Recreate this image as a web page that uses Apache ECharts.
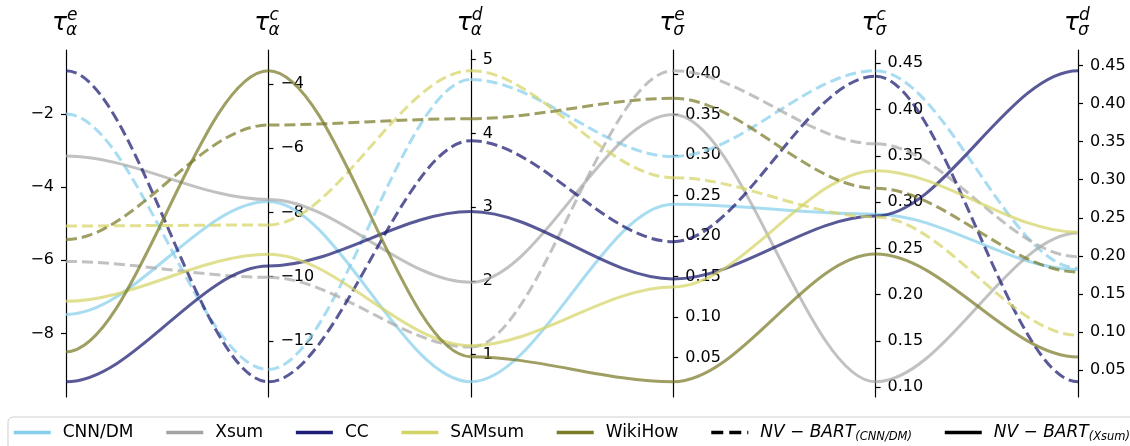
<!DOCTYPE html>
<html>
<head>
<meta charset="utf-8">
<script src="https://cdn.jsdelivr.net/npm/echarts@6/dist/echarts.min.js"></script>
<style>html,body{margin:0;padding:0;background:#fff}#chart{width:1130px;height:446px}</style>
</head>
<body>
<div id="chart"></div>
<script>
// ---- axis headers (tau with superscript / subscript) ----
const axisSup = ['e', 'c', 'd', 'e', 'c', 'd'];
const axisSub = ['α', 'α', 'α', 'σ', 'σ', 'σ'];

// ---- tick labels per axis ----
const ticksA = [-8, -6, -4, -2];
const ticksB = [-12, -10, -8, -6, -4];
const ticksC = [1, 2, 3, 4, 5];
const ticksD = [0.05, 0.10, 0.15, 0.20, 0.25, 0.30, 0.35, 0.40];
const ticksE = [0.10, 0.15, 0.20, 0.25, 0.30, 0.35, 0.40, 0.45];
const ticksF = [0.05, 0.10, 0.15, 0.20, 0.25, 0.30, 0.35, 0.40, 0.45];
const tickDecimals = [0, 0, 0, 2, 2, 2];

// ---- categories ----
const datasets = ['CNN/DM', 'Xsum', 'CC', 'SAMsum', 'WikiHow'];
const models = ['NV-BART(CNN/DM)', 'NV-BART(Xsum)'];

// ---- values: model NV-BART(CNN/DM) (dashed) ----
const cnnModel_CNNDM  = [-2.00, -12.89, 4.73, 0.298, 0.442, 0.184];
const cnnModel_Xsum   = [-6.03, -10.02, 1.10, 0.404, 0.363, 0.199];
const cnnModel_CC     = [-0.815, -13.27, 3.90, 0.193, 0.436, 0.035];
const cnnModel_SAMsum = [-5.06, -8.39, 4.85, 0.272, 0.284, 0.096];
const cnnModel_WikiHow= [-5.43, -5.28, 4.20, 0.370, 0.315, 0.179];

// ---- values: model NV-BART(Xsum) (solid) ----
const xsumModel_CNNDM  = [-7.48, -7.66, 0.63, 0.239, 0.287, 0.182];
const xsumModel_Xsum   = [-3.15, -7.60, 1.98, 0.350, 0.106, 0.230];
const xsumModel_CC     = [-9.32, -9.67, 2.94, 0.147, 0.285, 0.443];
const xsumModel_SAMsum = [-7.12, -9.30, 1.12, 0.137, 0.334, 0.231];
const xsumModel_WikiHow= [-8.50, -3.59, 0.97, 0.020, 0.244, 0.0675];

// ---- styles ----
const legendColors = ['#87CEEB', '#A3A3A3', '#1E1E78', '#D4D465', '#7A7A28'];
const lineColors   = ['#87CEEB', '#A9A9A9', '#191970', '#D4D465', '#7A7A28'];
const lineOpacity = 0.72;
const FONT = '"DejaVu Sans", "Noto Sans", sans-serif';

const dashedSets = [cnnModel_CNNDM, cnnModel_Xsum, cnnModel_CC, cnnModel_SAMsum, cnnModel_WikiHow];
const solidSets  = [xsumModel_CNNDM, xsumModel_Xsum, xsumModel_CC, xsumModel_SAMsum, xsumModel_WikiHow];
const tickSets = [ticksA, ticksB, ticksC, ticksD, ticksE, ticksF];

const chart = echarts.init(document.getElementById('chart'), null, {renderer: 'canvas'});

// grid geometry
const GRID = {left: 66, right: 52, top: 50, bottom: 49};
const gridW = 1130 - GRID.left - GRID.right;
const step = gridW / 5;

// axis ranges from the data (matplotlib-like padding)
const allSets = dashedSets.concat(solidSets);
function axisRange(k) {
  const vals = allSets.map(s => s[k]);
  const lo = Math.min.apply(null, vals), hi = Math.max.apply(null, vals);
  const r = hi - lo;
  return [lo - 0.049 * r, hi + 0.0666 * r];
}

function fmt(k) {
  return function (v) {
    const s = tickDecimals[k] ? v.toFixed(tickDecimals[k]) : String(Math.round(v));
    return s.replace('-', '\u2212');
  };
}

const yAxes = tickSets.map((ticks, k) => {
  const rng = axisRange(k);
  return {
    type: 'value',
    min: rng[0],
    max: rng[1],
    position: k === 0 ? 'left' : 'right',
    offset: k === 0 ? 0 : -(5 - k) * step,
    axisLine: {show: true, onZero: false, lineStyle: {color: '#000', width: 1.2}},
    axisTick: {show: true, inside: false, length: 5, customValues: ticks, lineStyle: {color: '#000', width: 1.2}},
    axisLabel: {show: true, margin: 12, customValues: ticks, formatter: fmt(k),
      fontSize: 16, fontFamily: FONT, color: '#000'},
    splitLine: {show: false}
  };
});

function makeCurve(values, color, dashed, name) {
  return {
    type: 'custom',
    name: name,
    coordinateSystem: 'none',
    silent: true,
    z: 3,
    data: [values],
    renderItem: function (params, api) {
      const pts = [];
      for (let k = 0; k < 6; k++) {
        const x = chart.convertToPixel({xAxisIndex: 0}, k);
        const y = chart.convertToPixel({yAxisIndex: k}, api.value(k));
        pts.push([x, y]);
      }
      const children = [];
      for (let k = 0; k < 5; k++) {
        const p = pts[k], q = pts[k + 1];
        const dx = (q[0] - p[0]) / 3;
        children.push({
          type: 'bezierCurve',
          shape: {x1: p[0], y1: p[1], x2: q[0], y2: q[1], cpx1: p[0] + dx, cpy1: p[1], cpx2: q[0] - dx, cpy2: q[1]},
          style: {stroke: color, lineWidth: 3, fill: null, opacity: lineOpacity, lineDash: dashed ? [11, 5] : null}
        });
      }
      return {type: 'group', children: children};
    }
  };
}

const series = [];
datasets.forEach((d, i) => {
  series.push(makeCurve(dashedSets[i], lineColors[i], true, d + ' / ' + models[0]));
  series.push(makeCurve(solidSets[i], lineColors[i], false, d + ' / ' + models[1]));
});
// legend entries
datasets.forEach((d, i) => {
  series.push({type: 'line', name: d, data: [], symbol: 'none', xAxisIndex: 0, yAxisIndex: 0,
    itemStyle: {color: legendColors[i], opacity: 0}, lineStyle: {color: legendColors[i], width: 3.5, opacity: 1}});
});
series.push({type: 'line', name: models[0], data: [], symbol: 'none', xAxisIndex: 0, yAxisIndex: 0,
  itemStyle: {color: '#000', opacity: 0}, lineStyle: {color: '#000', width: 3.5, opacity: 1, type: [12, 6]}});
series.push({type: 'line', name: models[1], data: [], symbol: 'none', xAxisIndex: 0, yAxisIndex: 0,
  itemStyle: {color: '#000', opacity: 0}, lineStyle: {color: '#000', width: 3.5, opacity: 1, type: 'solid'}});

const option = {
  animation: false,
  backgroundColor: '#fff',
  grid: {left: GRID.left, right: GRID.right, top: GRID.top, bottom: GRID.bottom, containLabel: false, outerBoundsMode: 'none'},
  xAxis: {type: 'value', min: 0, max: 5, show: false},
  yAxis: yAxes,
  legend: {
    data: datasets.concat(models),
    left: 8, top: 417, width: 1200,
    orient: 'horizontal',
    itemWidth: 37, itemHeight: 14, itemGap: 31,
    padding: [7, 5, 20, 4],
    borderColor: '#cfcfcf', borderWidth: 1, borderRadius: 5,
    backgroundColor: '#fff',
    selectedMode: false,
    itemStyle: {opacity: 0},
    lineStyle: {width: 3.5, opacity: 1},
    formatter: function (name) {
      if (name.indexOf('NV-BART') === 0) {
        return '{m|NV \u2212 BART}{s|' + name.slice(7) + '}';
      }
      return name;
    },
    textStyle: {
      fontFamily: FONT, fontSize: 17, color: '#000', padding: [0, 0, 0, 7],
      rich: {
        m: {fontFamily: FONT, fontSize: 17, fontStyle: 'italic', color: '#000'},
        s: {fontFamily: FONT, fontSize: 11.5, fontStyle: 'italic', color: '#000', padding: [10, 0, 0, 0]}
      }
    }
  },
  series: series
};
chart.setOption(option);

// axis headers: tau with superscript and subscript, placed at each axis
const headers = [];
for (let k = 0; k < 6; k++) {
  const ax = chart.convertToPixel({xAxisIndex: 0}, k);
  headers.push({type: 'text', x: ax + 1, y: 23, style: {text: 'τ', fontSize: 25, fontFamily: FONT, fontStyle: 'italic', fill: '#000', align: 'right', verticalAlign: 'middle'}});
  headers.push({type: 'text', x: ax + 1, y: 16, style: {text: axisSup[k], fontSize: 17, fontFamily: FONT, fontStyle: 'italic', fill: '#000', align: 'left', verticalAlign: 'middle'}});
  headers.push({type: 'text', x: ax, y: 31, style: {text: axisSub[k], fontSize: 17, fontFamily: FONT, fontStyle: 'italic', fill: '#000', align: 'left', verticalAlign: 'middle'}});
}
chart.setOption({graphic: headers});
</script>
</body>
</html>
